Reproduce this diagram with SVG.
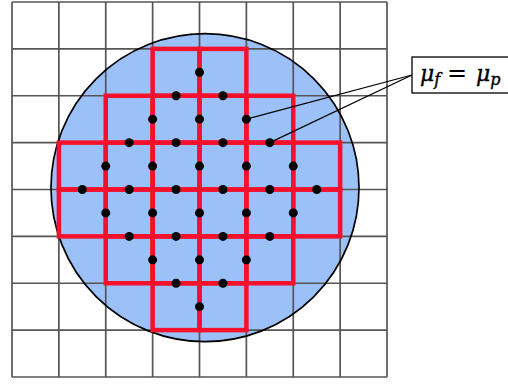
<svg xmlns="http://www.w3.org/2000/svg" width="508" height="385" viewBox="0 0 508 385">
<style>
.grid{stroke:#555;stroke-width:1.7;fill:none}
.cell{fill:none;stroke:#f5102c;stroke-width:4.5}
.dot{fill:#000}
.conn{stroke:#000;stroke-width:1.2;fill:none}
</style>
<defs>
<rect id="c" width="46.875" height="46.875" class="cell"/>
</defs>
<rect width="508" height="385" fill="#fff"/>
<g id="domain">
<circle cx="205" cy="187.7" r="154" fill="#9cc0f8"/>
</g>
<g id="grid" class="grid">
<path d="M12 2V377M58.875 2V377M105.75 2V377M152.625 2V377M199.5 2V377M246.375 2V377M293.25 2V377M340.125 2V377M387 2V377M12 2H387M12 48.875H387M12 95.75H387M12 142.625H387M12 189.5H387M12 236.375H387M12 283.25H387M12 330.125H387M12 377H387"/>
</g>
<circle cx="205" cy="187.7" r="154" fill="none" stroke="#000" stroke-width="1.7"/>
<g id="cells">
<use href="#c" x="152.625" y="48.875"/><use href="#c" x="199.5" y="48.875"/>
<use href="#c" x="105.75" y="95.75"/><use href="#c" x="152.625" y="95.75"/><use href="#c" x="199.5" y="95.75"/><use href="#c" x="246.375" y="95.75"/>
<use href="#c" x="58.875" y="142.625"/><use href="#c" x="105.75" y="142.625"/><use href="#c" x="152.625" y="142.625"/><use href="#c" x="199.5" y="142.625"/><use href="#c" x="246.375" y="142.625"/><use href="#c" x="293.25" y="142.625"/>
<use href="#c" x="58.875" y="189.5"/><use href="#c" x="105.75" y="189.5"/><use href="#c" x="152.625" y="189.5"/><use href="#c" x="199.5" y="189.5"/><use href="#c" x="246.375" y="189.5"/><use href="#c" x="293.25" y="189.5"/>
<use href="#c" x="105.75" y="236.375"/><use href="#c" x="152.625" y="236.375"/><use href="#c" x="199.5" y="236.375"/><use href="#c" x="246.375" y="236.375"/>
<use href="#c" x="152.625" y="283.25"/><use href="#c" x="199.5" y="283.25"/>
</g>
<g id="dots" class="dot">
<circle cx="199.5" cy="72.3" r="4.5"/>
<circle cx="176.06" cy="95.75" r="4.5"/><circle cx="222.94" cy="95.75" r="4.5"/>
<circle cx="152.625" cy="119.19" r="4.5"/><circle cx="199.5" cy="119.19" r="4.5"/><circle cx="246.375" cy="119.19" r="4.5"/>
<circle cx="129.19" cy="142.625" r="4.5"/><circle cx="176.06" cy="142.625" r="4.5"/><circle cx="222.94" cy="142.625" r="4.5"/><circle cx="269.81" cy="142.625" r="4.5"/>
<circle cx="105.75" cy="166.06" r="4.5"/><circle cx="152.625" cy="166.06" r="4.5"/><circle cx="199.5" cy="166.06" r="4.5"/><circle cx="246.375" cy="166.06" r="4.5"/><circle cx="293.25" cy="166.06" r="4.5"/>
<circle cx="82.31" cy="189.5" r="4.5"/><circle cx="129.19" cy="189.5" r="4.5"/><circle cx="176.06" cy="189.5" r="4.5"/><circle cx="222.94" cy="189.5" r="4.5"/><circle cx="269.81" cy="189.5" r="4.5"/><circle cx="316.69" cy="189.5" r="4.5"/>
<circle cx="105.75" cy="212.94" r="4.5"/><circle cx="152.625" cy="212.94" r="4.5"/><circle cx="199.5" cy="212.94" r="4.5"/><circle cx="246.375" cy="212.94" r="4.5"/><circle cx="293.25" cy="212.94" r="4.5"/>
<circle cx="129.19" cy="236.375" r="4.5"/><circle cx="176.06" cy="236.375" r="4.5"/><circle cx="222.94" cy="236.375" r="4.5"/><circle cx="269.81" cy="236.375" r="4.5"/>
<circle cx="152.625" cy="259.81" r="4.5"/><circle cx="199.5" cy="259.81" r="4.5"/><circle cx="246.375" cy="259.81" r="4.5"/>
<circle cx="176.06" cy="283.25" r="4.5"/><circle cx="222.94" cy="283.25" r="4.5"/>
<circle cx="199.5" cy="306.69" r="4.5"/>
</g>
<g id="connectors" class="conn">
<line x1="412" y1="75" x2="246.375" y2="119.19"/>
<line x1="412" y1="75" x2="269.81" y2="142.625"/>
</g>
<g id="label">
<rect x="412" y="57" width="110" height="36" fill="#fff" stroke="#000" stroke-width="1.3"/>
<text font-family="'DejaVu Serif', 'Liberation Serif', serif" font-style="italic" x="420" y="81" font-size="22" fill="#000" stroke="#000" stroke-width="0.4">μ<tspan font-size="16" dy="4">f</tspan><tspan x="447" dy="-4" font-style="normal" font-size="24" stroke-width="0">=</tspan><tspan x="476">μ</tspan><tspan font-size="16" dy="4">p</tspan></text>
</g>
</svg>
